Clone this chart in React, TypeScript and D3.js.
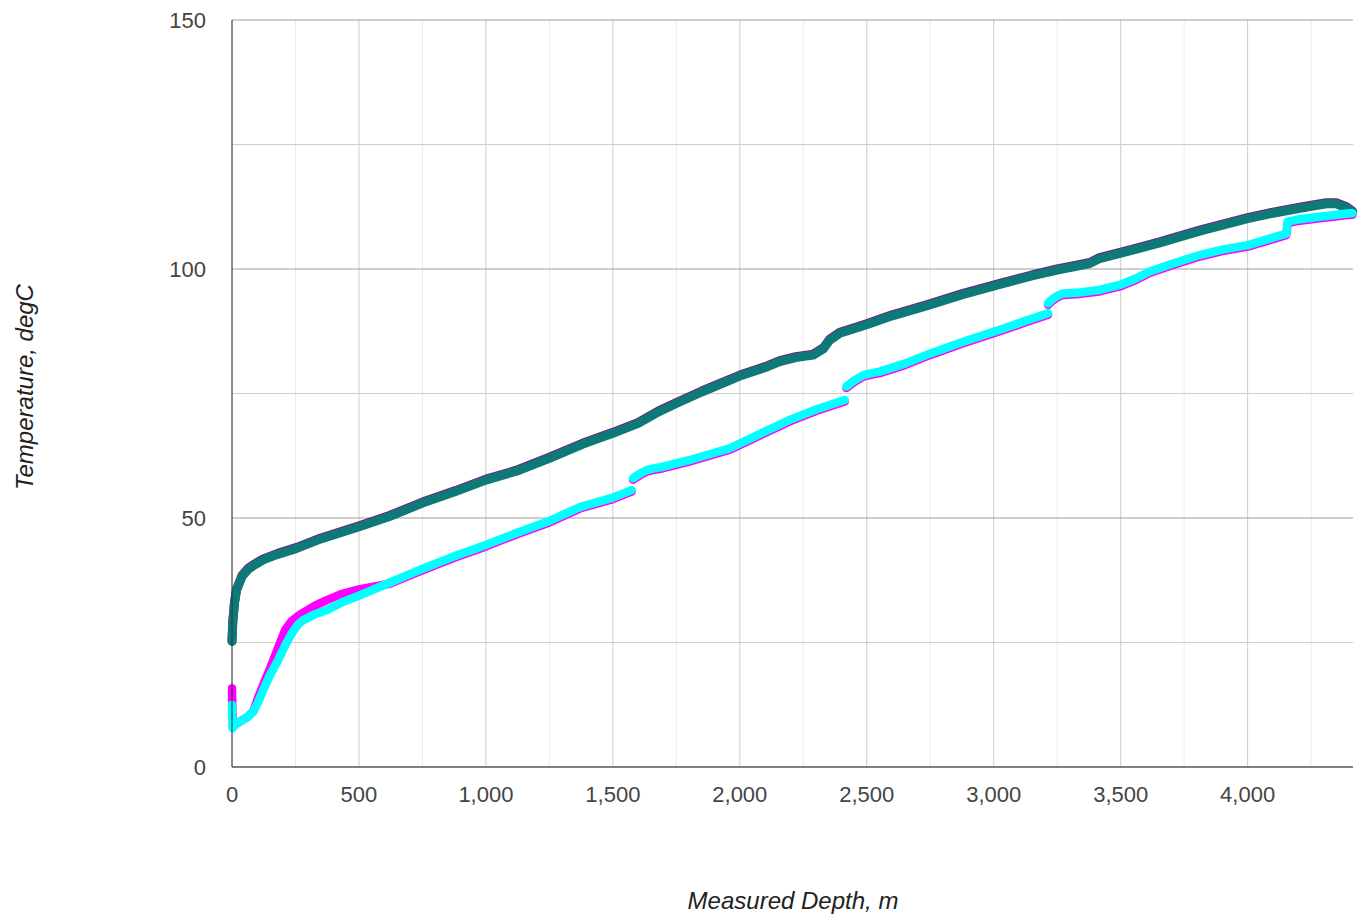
import * as d3 from "d3";

const upperDepth = [0, 3, 10, 18, 40, 64, 90, 123, 180, 255, 350, 504, 620, 750, 880, 1000, 1120, 1250, 1380, 1500, 1600, 1680, 1750, 1850, 2000, 2100, 2157, 2220, 2289, 2330, 2354, 2394, 2450, 2499, 2600, 2735, 2880, 3024, 3150, 3250, 3330, 3378, 3417, 3547, 3650, 3811, 4000, 4100, 4205, 4310, 4349, 4389, 4413];
const tealTemp = [25.2, 29, 33, 35.5, 38.3, 39.7, 40.6, 41.6, 42.7, 43.9, 45.8, 48.3, 50.3, 53.0, 55.3, 57.6, 59.4, 62.0, 64.8, 67.0, 69.0, 71.3, 73.0, 75.3, 78.5, 80.2, 81.4, 82.2, 82.7, 84.0, 85.7, 87.1, 88.0, 88.8, 90.6, 92.6, 94.9, 96.9, 98.6, 99.8, 100.6, 101.1, 102.1, 103.8, 105.2, 107.6, 110.1, 111.2, 112.2, 113.1, 113.1, 112.3, 111.4];
const purpleTemp = [25.3, 29.2, 33.2, 35.7, 38.5, 39.9, 40.8, 41.8, 42.9, 44.1, 46.0, 48.5, 50.5, 53.2, 55.5, 57.8, 59.6, 62.2, 65.0, 67.2, 69.2, 71.5, 73.2, 75.5, 78.7, 80.4, 81.6, 82.4, 82.9, 84.2, 85.9, 87.3, 88.2, 89.0, 90.8, 92.8, 95.1, 97.1, 98.8, 100.0, 100.8, 101.3, 102.3, 104.0, 105.4, 107.8, 110.3, 111.4, 112.4, 113.3, 113.3, 112.5, 111.6];

// lower pair, null marks the breaks between logging runs
const lowerDepth = [0, 2, 15, 31, 60, 84, 105, 123, 150, 182, 210, 235, 260, 281, 320, 373, 430, 504, 620, 740, 870, 1000, 1120, 1250, 1370, 1500, 1574, null,
  1580, 1610, 1633, 1665, 1698, 1800, 1961, 2100, 2197, 2300, 2413, null,
  2420, 2450, 2486, 2520, 2551, 2650, 2748, 2880, 3024, 3120, 3214, null,
  3214, 3230, 3250, 3273, 3340, 3417, 3496, 3560, 3614, 3700, 3811, 3900, 4001, 4080, 4152, 4158, 4205, 4300, 4402, 4413];
const cyanTemp = [12.5, 7.8, 8.6, 9.1, 10.0, 11.1, 13.3, 15.5, 18.5, 21.5, 24.5, 26.8, 28.6, 29.5, 30.5, 31.5, 33.0, 34.5, 37.0, 39.6, 42.2, 44.6, 47.0, 49.4, 52.2, 54.1, 55.6, null,
  58.0, 59.0, 59.6, 60.0, 60.3, 61.6, 64.0, 67.4, 69.7, 71.8, 73.7, null,
  76.4, 77.6, 78.7, 79.1, 79.4, 81.0, 83.0, 85.4, 87.8, 89.5, 91.1, null,
  93.1, 93.9, 94.6, 95.1, 95.3, 95.8, 96.8, 98.1, 99.5, 101.0, 102.8, 103.9, 104.8, 106.0, 107.1, 109.5, 110.0, 110.6, 111.2, 111.2];
const magentaTemp = [15.8, 9.5, 8.6, 9.1, 10.0, 11.2, 14.2, 16.5, 19.8, 24.0, 27.6, 29.3, 30.3, 31.0, 32.2, 33.5, 34.7, 35.7, 36.8, 39.3, 41.9, 44.3, 46.7, 49.1, 51.9, 53.8, 55.3, null,
  57.7, 58.7, 59.3, 59.7, 60.0, 61.3, 63.7, 67.1, 69.4, 71.5, 73.4, null,
  76.1, 77.3, 78.4, 78.8, 79.1, 80.7, 82.7, 85.1, 87.5, 89.2, 90.8, null,
  92.8, 93.6, 94.3, 94.8, 95.0, 95.5, 96.5, 97.8, 99.2, 100.7, 102.5, 103.6, 104.5, 105.7, 106.8, 109.2, 109.7, 110.3, 110.9, 110.9];

const xTicks = [0, 500, 1000, 1500, 2000, 2500, 3000, 3500, 4000];
const xMinor = [250, 750, 1250, 1750, 2250, 2750, 3250, 3750, 4250];
const yTicks = [0, 50, 100, 150];
const yMinor = [25, 75, 125];

const W = 1360, H = 918;
const font = "'Liberation Sans', Arial, sans-serif";

export default function App() {
  const x = d3.scaleLinear().domain([0, 4415]).range([232, 1353]);
  const y = d3.scaleLinear().domain([0, 150]).range([767, 20]);

  const mk = (temps: (number | null)[]) =>
    lowerDepth.map((d, i) => [d, temps[i]] as [number | null, number | null]);

  const line = d3
    .line<[number | null, number | null]>()
    .defined((d) => d[0] != null && d[1] != null)
    .x((d) => x(d[0] as number))
    .y((d) => y(d[1] as number));

  const series = [
    { data: upperDepth.map((d, i) => [d, purpleTemp[i]]), color: "#7b1c7b", w: 9 },
    { data: upperDepth.map((d, i) => [d, tealTemp[i]]), color: "#0e7a78", w: 9 },
    { data: mk(magentaTemp), color: "#ff00ff", w: 8.5 },
    { data: mk(cyanTemp), color: "#00ffff", w: 8.5 },
  ];

  const fmt = d3.format(",");

  return (
    <svg width={W} height={H} style={{ position: "absolute", left: 0, top: 0, background: "#fff" }}>
      {/* grid */}
      {xMinor.map((v) => (
        <line key={"xm" + v} x1={x(v)} x2={x(v)} y1={y(150)} y2={y(0)} stroke="#ebebeb" />
      ))}
      {xTicks.map((v) => (
        <line key={"xj" + v} x1={x(v)} x2={x(v)} y1={y(150)} y2={y(0)} stroke="#cccccc" />
      ))}
      {yMinor.map((v) => (
        <line key={"ym" + v} x1={232} x2={1353} y1={y(v)} y2={y(v)} stroke="#cccccc" />
      ))}
      {yTicks.map((v) => (
        <line key={"yj" + v} x1={232} x2={1353} y1={y(v)} y2={y(v)} stroke="#9e9e9e" />
      ))}

      {/* data */}
      {series.map((s, i) => (
        <path
          key={i}
          d={line(s.data as any) || ""}
          fill="none"
          stroke={s.color}
          strokeWidth={s.w}
          strokeLinecap="round"
          strokeLinejoin="round"
        />
      ))}

      {/* axes */}
      <line x1={232} x2={232} y1={y(150)} y2={y(0)} stroke="#333" />
      <line x1={232} x2={1353} y1={y(0)} y2={y(0)} stroke="#333" />

      {yTicks.map((v) => (
        <text key={"yt" + v} x={206} y={y(v)} dy="0.35em" textAnchor="end" fontFamily={font} fontSize={22} fill="#444">
          {v}
        </text>
      ))}
      {xTicks.map((v) => (
        <text key={"xt" + v} x={x(v)} y={802} textAnchor="middle" fontFamily={font} fontSize={22} fill="#444">
          {fmt(v)}
        </text>
      ))}

      <text x={793} y={909} textAnchor="middle" fontFamily={font} fontSize={24} fontStyle="italic" fill="#222">
        Measured Depth, m
      </text>
      <text
        transform={`translate(33,387) rotate(-90)`}
        textAnchor="middle"
        fontFamily={font}
        fontSize={24}
        fontStyle="italic"
        fill="#222"
      >
        Temperature, degC
      </text>
    </svg>
  );
}
